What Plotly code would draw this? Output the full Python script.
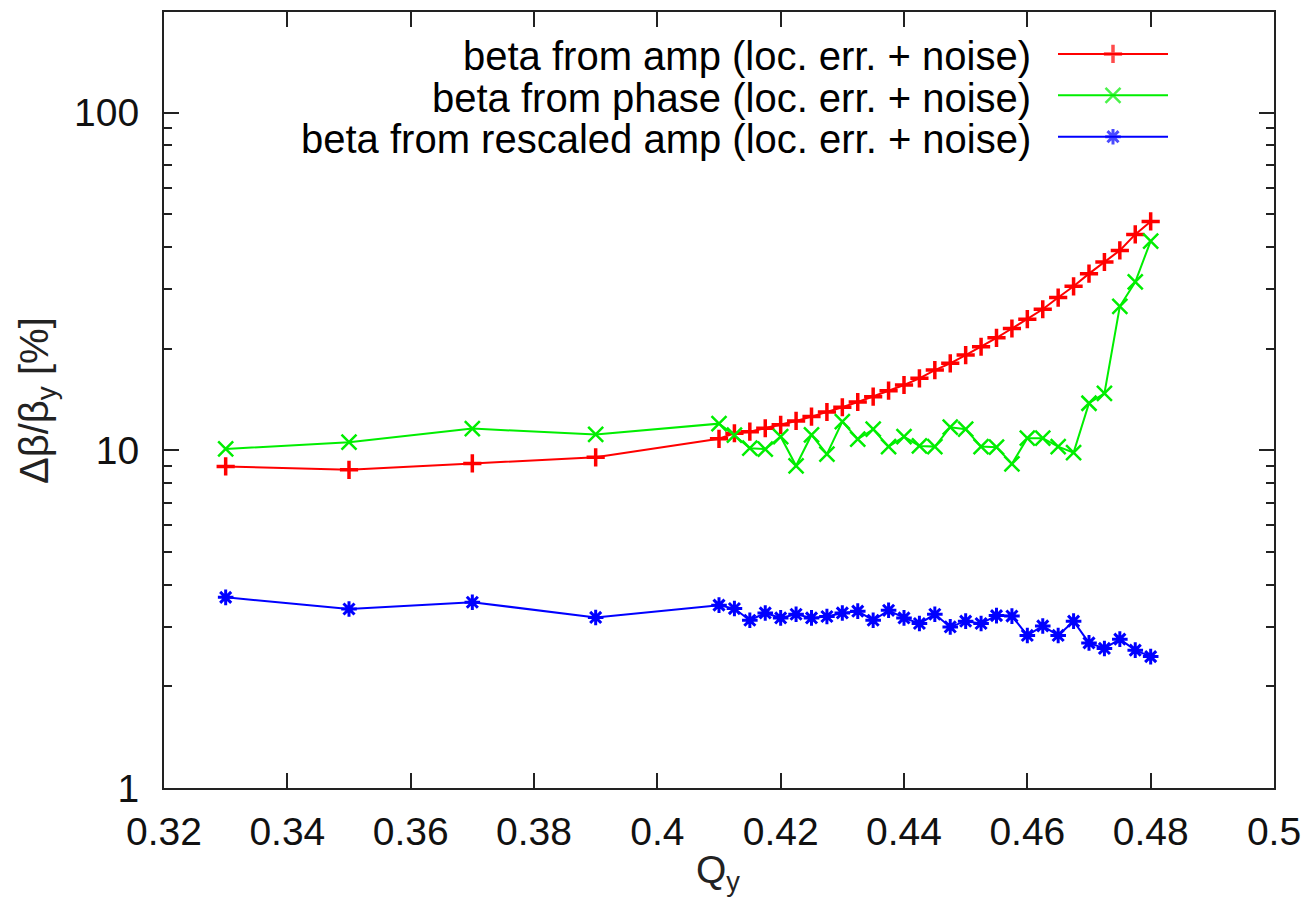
import plotly.graph_objects as go

# ---- data ----
q_vals = [0.33, 0.35, 0.37, 0.39, 0.41, 0.4125, 0.415, 0.4175, 0.42, 0.4225, 0.425,
          0.4275, 0.43, 0.4325, 0.435, 0.4375, 0.44, 0.4425, 0.445, 0.4475, 0.45,
          0.4525, 0.455, 0.4575, 0.46, 0.4625, 0.465, 0.4675, 0.47, 0.4725, 0.475,
          0.4775, 0.48]
beta_amp = [8.96, 8.76, 9.15, 9.54, 10.82, 11.24, 11.36, 11.63, 11.90, 12.22, 12.59,
            12.99, 13.42, 13.91, 14.42, 15.02, 15.62, 16.34, 17.29, 18.10, 19.15,
            20.27, 21.54, 22.96, 24.46, 26.18, 28.35, 30.62, 33.38, 36.13, 39.11,
            43.61, 47.64]
beta_phase = [10.10, 10.57, 11.60, 11.15, 12.00, 11.09, 10.15, 10.08, 10.98, 9.00, 11.11,
              9.74, 12.17, 10.79, 11.55, 10.26, 10.98, 10.31, 10.26, 11.71, 11.55,
              10.26, 10.22, 9.12, 10.87, 10.87, 10.26, 9.85, 13.79, 14.75, 26.72,
              31.53, 41.68]
beta_rescaled = [3.67, 3.39, 3.55, 3.20, 3.48, 3.40, 3.14, 3.30, 3.19, 3.27, 3.19,
                 3.22, 3.30, 3.34, 3.14, 3.36, 3.19, 3.07, 3.27, 3.00, 3.12,
                 3.07, 3.24, 3.23, 2.83, 3.02, 2.83, 3.12, 2.69, 2.59, 2.76,
                 2.56, 2.45]

series_names = ["beta from amp (loc. err. + noise)",
                "beta from phase (loc. err. + noise)",
                "beta from rescaled amp (loc. err. + noise)"]
series_colors = ["#ff0000", "#00ee00", "#0000ff"]
series_symbols = ["cross-thin", "x-thin", "asterisk"]
series_sizes = [13, 15, 13]
series_mwidth = [3.5, 2.5, 3]

x_ticks = [0.32, 0.34, 0.36, 0.38, 0.4, 0.42, 0.44, 0.46, 0.48, 0.5]
x_ticktext = ["0.32", "0.34", "0.36", "0.38", "0.4", "0.42", "0.44", "0.46", "0.48", "0.5"]
y_ticks = [1, 10, 100]
y_minor = [2, 3, 4, 5, 6, 7, 8, 9, 20, 30, 40, 50, 60, 70, 80, 90, 200]

FONT = "Liberation Sans, Arial, sans-serif"
W, H = 1312, 902
L, R, T, B = 164, 1274, 10, 788

fig = go.Figure()
for ys, name, col, sym, sz, mw in zip([beta_amp, beta_phase, beta_rescaled],
                                      series_names, series_colors, series_symbols,
                                      series_sizes, series_mwidth):
    fig.add_trace(go.Scatter(
        x=q_vals, y=ys, mode="lines+markers", name=name, showlegend=False,
        line=dict(color=col, width=2),
        marker=dict(symbol=sym, size=sz, color=col, line=dict(color=col, width=mw)),
    ))

# legend keys drawn on a small helper axis (text left, sample right like gnuplot)
legend_rows = [0, 1, 2]
for row, col, sym, sz, mw in zip(legend_rows, series_colors, series_symbols,
                                 series_sizes, series_mwidth):
    fig.add_trace(go.Scatter(
        x=[0, 0.5, 1], y=[row, row, row], mode="lines+markers", showlegend=False,
        xaxis="x3", yaxis="y3", hoverinfo="skip",
        line=dict(color=col, width=2),
        marker=dict(symbol=sym, size=[0, sz, 0], color=col, line=dict(color=col, width=mw)),
    ))

def px_x(p):
    return (p - L) / (R - L)

def px_y(p):
    return (B - p) / (B - T)

row_px = [52, 94, 135]
annotations = []
for name, rp in zip(series_names, row_px):
    annotations.append(dict(
        text=name, xref="paper", yref="paper", x=px_x(1033), y=px_y(rp + 2),
        xanchor="right", yanchor="middle", showarrow=False,
        font=dict(family=FONT, size=40, color="black")))

annotations.append(dict(
    text="Δβ/β<sub>y</sub> [%]", xref="paper", yref="paper", x=px_x(37), y=px_y(400),
    xanchor="center", yanchor="middle", textangle=-90, showarrow=False,
    font=dict(family=FONT, size=40, color="#222")))
annotations.append(dict(
    text="Q<sub>y</sub>", xref="paper", yref="paper", x=px_x(718), y=px_y(846),
    xanchor="center", yanchor="top", showarrow=False,
    font=dict(family=FONT, size=39, color="#222")))

axis_common = dict(showline=True, linecolor="#222", linewidth=2, mirror="allticks",
                   ticks="inside", tickcolor="#222", tickwidth=2, showgrid=False,
                   zeroline=False)

fig.update_layout(
    width=W, height=H,
    margin=dict(l=L, r=W - R, t=T, b=H - B, pad=0),
    paper_bgcolor="white", plot_bgcolor="white",
    font=dict(family=FONT, size=39, color="#111"),
    xaxis=dict(range=[0.32, 0.5], tickvals=x_ticks, ticktext=x_ticktext, ticklen=15,
               ticklabelstandoff=8, tickfont=dict(size=39), **axis_common),
    yaxis=dict(type="log", range=[0, (B - T) / 338.5], tickvals=y_ticks,
               ticktext=["1", "10", "100"], ticklen=15, ticklabelstandoff=15,
               tickfont=dict(size=39),
               minor=dict(tickvals=y_minor, ticks="inside", ticklen=8,
                          tickcolor="#222", tickwidth=2, showgrid=False),
               **axis_common),
    xaxis3=dict(domain=[px_x(1058), px_x(1168)], range=[0, 1], visible=False,
                anchor="y3", fixedrange=True),
    yaxis3=dict(domain=[px_y(156), px_y(31)], range=[2 + 21 / 41.5, -21 / 41.5],
                visible=False, anchor="x3", fixedrange=True),
    annotations=annotations,
)

fig.write_html("out.html")
